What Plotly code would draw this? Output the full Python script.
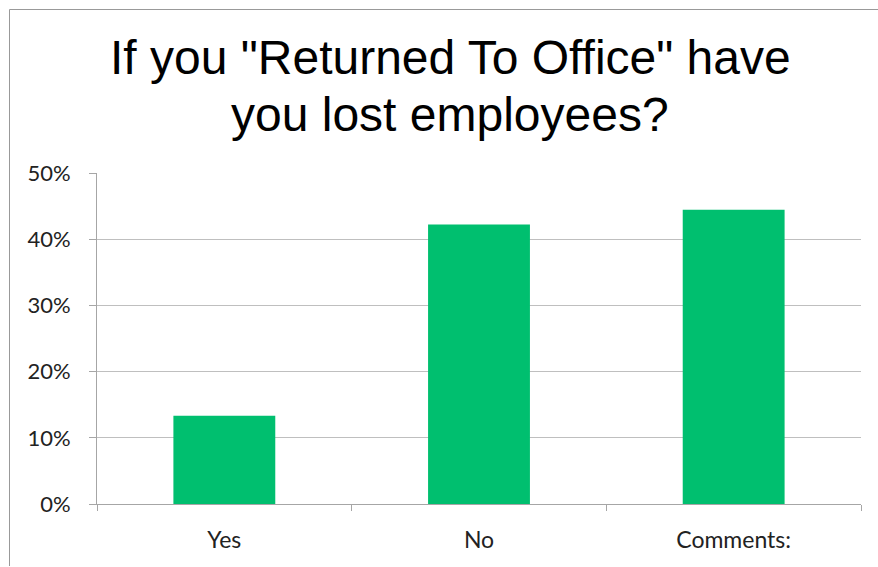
import plotly.graph_objects as go

# Survey answers and their shares
categories = ["Yes", "No", "Comments:"]
shares = [0.1333, 0.4222, 0.4444]
y_ticks = [0, 0.1, 0.2, 0.3, 0.4, 0.5]
title_lines = ['If you "Returned To Office" have', "you lost employees?"]

W, H = 878, 567
L, R, T, B = 97, 17, 173, 63
plot_w = W - L - R
plot_h = H - T - B


def px_x(px):
    return (px - L) / plot_w


def px_y(py):
    return (H - B - py) / plot_h


fig = go.Figure(
    go.Bar(
        x=categories,
        y=shares,
        marker=dict(color="#00BF6F", line=dict(width=0)),
        width=0.4,
        hoverinfo="x+y",
    )
)

grey = "#a6a6a6"

# two-line title, each line placed on its own baseline
title_annotations = [
    dict(
        text=line,
        xref="paper", yref="paper",
        x=px_x(450), y=px_y(base),
        xanchor="center", yanchor="middle",
        showarrow=False,
        font=dict(family="Liberation Sans, Arial", size=48, color="#000000"),
    )
    for line, base in zip(title_lines, [58, 114])
]

fig.update_layout(
    width=W,
    height=H,
    margin=dict(l=L, r=R, t=T, b=B),
    paper_bgcolor="white",
    plot_bgcolor="white",
    showlegend=False,
    annotations=title_annotations,
    xaxis=dict(
        showline=True,
        linecolor=grey,
        linewidth=1,
        ticks="outside",
        tickson="boundaries",
        ticklen=6,
        tickcolor=grey,
        showgrid=False,
        tickfont=dict(family="Lato", size=23, color="#222222"),
        ticklabelstandoff=15,
    ),
    yaxis=dict(
        range=[0, 0.5],
        tickvals=y_ticks,
        tickformat=".0%",
        showline=True,
        linecolor=grey,
        linewidth=1,
        ticks="outside",
        ticklen=7,
        tickcolor=grey,
        showgrid=True,
        gridcolor="#bfbfbf",
        gridwidth=1,
        zeroline=False,
        tickfont=dict(family="Lato", size=22, color="#222222"),
        ticklabelstandoff=14,
    ),
    shapes=[
        # chart frame: left and top edges
        dict(type="line", xref="paper", yref="paper",
             x0=px_x(9.5), x1=px_x(9.5), y0=px_y(9.5), y1=px_y(566),
             line=dict(color="#999999", width=1)),
        dict(type="line", xref="paper", yref="paper",
             x0=px_x(9.5), x1=px_x(878), y0=px_y(9.5), y1=px_y(9.5),
             line=dict(color="#999999", width=1)),
    ],
)

fig.write_html("out.html")
